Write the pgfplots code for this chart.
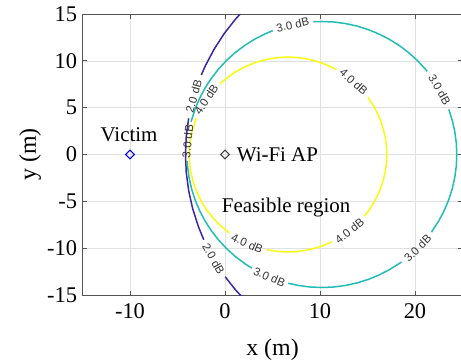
\documentclass[border=0pt]{standalone}
\usepackage{pgfplots}
\pgfplotsset{compat=1.18}
\usepackage{fontspec}
\setmainfont{Liberation Serif}
\newfontfamily\lsans{Liberation Sans}
\definecolor{cnavy}{rgb}{0.2422,0.1504,0.6603}
\definecolor{cteal}{rgb}{0.13,0.74,0.71}
\definecolor{cyel}{rgb}{0.9763,0.9831,0.0538}
\definecolor{axgray}{rgb}{0.33,0.33,0.33}
\definecolor{apgray}{rgb}{0.25,0.25,0.25}
\begin{document}
\begin{tikzpicture}
\begin{axis}[
 scale only axis, width=380bp, height=281bp,
 xmin=-15, xmax=25, ymin=-15, ymax=15,
 xtick={-10,0,10,20}, ytick={-15,-10,...,15},
 grid=major, major grid style={color=black!12, line width=0.6bp},
 axis line style={color=axgray, line width=0.8bp},
 tick style={color=axgray, line width=0.8bp},
 major tick length=4.5bp,
 tick align=inside,
 /pgf/number format/assume math mode=true,
 ticklabel style={font=\fontsize{22.5}{26}\selectfont},
 xticklabel style={yshift=-5bp},
 yticklabel style={xshift=-2bp},
 xlabel={x (m)}, ylabel={y (m)},
 label style={font=\fontsize{24}{28}\selectfont},
 xlabel style={at={(axis description cs:0.5,-0.196)}, anchor=center},
 ylabel style={at={(axis description cs:-0.138,0.5)}, anchor=center},
 clip=true,
]
\coordinate (SW) at (rel axis cs:0,0);
\coordinate (NE) at (rel axis cs:1,1);

% 2.0 dB contour
\addplot[cnavy, line width=1.5bp] coordinates {(2.700,16.163) (2.421,15.889) (1.097,14.443) (-0.097,12.889) (-1.149,11.235) (-2.055,9.496) (-2.495,8.489)};
\addplot[cnavy, line width=1.5bp] coordinates {(-3.825,3.863) (-4.075,1.959) (-4.16,0) (-4.075,-1.959) (-3.818,-3.901) (-3.394,-5.815) (-2.805,-7.685) (-2.234,-9.103)};
\addplot[cnavy, line width=1.5bp] coordinates {(0.017,-13.048) (1.097,-14.443) (2.421,-15.889) (2.700,-16.163)};

% 3.0 dB contour
\addplot[cteal, line width=1.5bp] coordinates {(6.644,-13.747) (7.735,-13.984) (8.962,-14.146) (10.2,-14.2) (11.438,-14.146) (12.665,-13.984) (13.875,-13.716) (15.056,-13.344) (16.201,-12.869) (17.3,-12.297) (18.345,-11.633) (18.567,-11.474)};
\addplot[cteal, line width=1.5bp] coordinates {(21.732,-8.286) (22.497,-7.1) (23.069,-6.001) (23.544,-4.856) (23.916,-3.675) (24.184,-2.465) (24.346,-1.238) (24.4,0) (24.346,1.238) (24.184,2.465) (23.916,3.675) (23.561,4.810)};
\addplot[cteal, line width=1.5bp] coordinates {(21.282,8.878) (21.077,9.128) (20.241,10.041) (19.328,10.877) (18.345,11.633) (17.3,12.297) (16.201,12.869) (15.056,13.344) (13.875,13.716) (12.665,13.984) (11.438,14.146) (10.2,14.2) (9.308,14.172)};
\addplot[cteal, line width=1.5bp] coordinates {(5.041,13.230) (4.199,12.869) (3.1,12.297) (2.055,11.633) (1.072,10.877) (0.159,10.041) (-0.677,9.128) (-1.433,8.145) (-2.097,7.1) (-2.669,6.001) (-3.144,4.856) (-3.516,3.675) (-3.565,3.483)};
\addplot[cteal, line width=1.5bp] coordinates {(-3.982,-0.718) (-3.946,-1.238) (-3.784,-2.465) (-3.516,-3.675) (-3.144,-4.856) (-2.669,-6.001) (-2.097,-7.1) (-1.433,-8.145) (-0.677,-9.128) (0.159,-10.041) (1.072,-10.877) (2.055,-11.633) (2.823,-12.134)};

% 4.0 dB contour
\addplot[cyel, line width=1.5bp] coordinates {(4.415,-10.161) (4.825,-10.242) (5.723,-10.360) (6.63,-10.4) (7.537,-10.360) (8.435,-10.242) (9.322,-10.045) (10.187,-9.773) (11.025,-9.426) (11.254,-9.315)};
\addplot[cyel, line width=1.5bp] coordinates {(14.678,-6.587) (15.150,-5.965) (15.637,-5.2) (16.056,-4.395) (16.403,-3.557) (16.675,-2.692) (16.872,-1.805) (16.990,-0.907) (17.03,0) (16.990,0.907) (16.872,1.805) (16.675,2.692) (16.403,3.557) (16.056,4.395) (15.637,5.2) (15.150,5.965) (15.054,6.099)};
\addplot[cyel, line width=1.5bp] coordinates {(11.751,9.052) (11.025,9.426) (10.187,9.773) (9.322,10.045) (8.435,10.242) (7.537,10.360) (6.63,10.4) (5.723,10.360) (4.825,10.242) (3.938,10.045) (3.073,9.773) (2.235,9.426) (1.43,9.007) (0.665,8.520) (-0.055,7.967) (-0.516,7.557)};
\addplot[cyel, line width=1.5bp] coordinates {(-3.026,3.863) (-3.143,3.557) (-3.415,2.692) (-3.612,1.805) (-3.730,0.907) (-3.77,0) (-3.730,-0.907) (-3.612,-1.805) (-3.415,-2.692) (-3.143,-3.557) (-2.796,-4.395) (-2.377,-5.2) (-1.890,-5.965) (-1.337,-6.685) (-0.724,-7.354) (-0.055,-7.967) (0.459,-8.371)};

% markers
\addplot[only marks, mark=square, mark size=3.1bp, mark options={rotate=45, draw=blue, line width=1.2bp, fill=none}] coordinates {(-10,0)};
\addplot[only marks, mark=square, mark size=3.1bp, mark options={rotate=45, draw=apgray, line width=1.2bp, fill=none}] coordinates {(0,0)};

% contour labels
\tikzset{clab/.style={font=\lsans\fontsize{11.5}{13}\selectfont, text=black!80, inner sep=0pt}}
\node[clab, rotate=12.5] at (axis cs:7.127,13.863) {3.0 dB};
\node[clab, rotate=-60.75] at (axis cs:22.59,6.938) {3.0 dB};
\node[clab, rotate=45.2] at (axis cs:20.276,-10.005) {3.0 dB};
\node[clab, rotate=-22.9] at (axis cs:4.675,-13.081) {3.0 dB};
\node[clab, rotate=84.35] at (axis cs:-3.930,1.398) {3.0 dB};
\node[clab, rotate=-41.8] at (axis cs:13.562,7.753) {4.0 dB};
\node[clab, rotate=38.55] at (axis cs:13.112,-8.133) {4.0 dB};
\node[clab, rotate=-24.35] at (axis cs:2.342,-9.475) {4.0 dB};
\node[clab, rotate=55.8] at (axis cs:-1.972,5.846) {4.0 dB};
\node[clab, rotate=73.95] at (axis cs:-3.284,6.213) {2.0 dB};
\node[clab, rotate=-60.3] at (axis cs:-1.207,-11.134) {2.0 dB};

% annotations
\tikzset{ann/.style={font=\fontsize{21}{25}\selectfont, inner sep=0pt}}
\node[ann, anchor=base] at (axis cs:-10.1,1.42) {Victim};
\node[ann, anchor=base west] at (axis cs:1.23,-0.71) {Wi-Fi AP};
\node[ann, anchor=base west] at (axis cs:-0.35,-6.21) {Feasible region};
\end{axis}
\pgfresetboundingbox
\path[use as bounding box] ([xshift=-82.5bp,yshift=-67bp]SW) rectangle ([xshift=-1.5bp,yshift=14bp]NE);
\end{tikzpicture}
\end{document}
